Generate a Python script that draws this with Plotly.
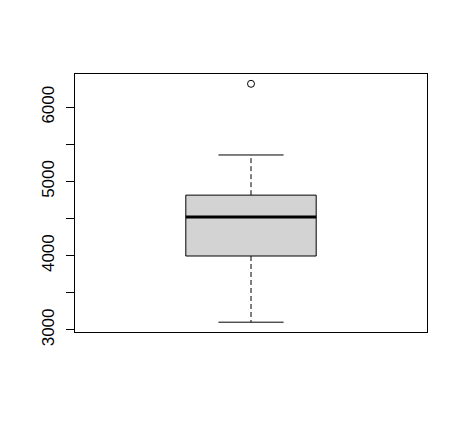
import plotly.graph_objects as go

# Box statistics
lower_whisker = 3104
q1 = 3996
median = 4523
q3 = 4816
upper_whisker = 5357
outliers = [6316]

tick_values = [3000, 3500, 4000, 4500, 5000, 5500, 6000]
tick_labels = ["3000", "", "4000", "", "5000", "", "6000"]

pos = 1.0
half_box = 0.2
half_cap = 0.1

fig = go.Figure()

# box
fig.add_trace(go.Scatter(
    x=[pos - half_box, pos + half_box, pos + half_box, pos - half_box, pos - half_box],
    y=[q1, q1, q3, q3, q1],
    mode="lines", fill="toself", fillcolor="#D3D3D3",
    line=dict(color="black", width=1), hoverinfo="skip"))
# whiskers dashed
fig.add_trace(go.Scatter(x=[pos, pos], y=[q3, upper_whisker], mode="lines",
                         line=dict(color="black", width=1, dash="5px,3px")))
fig.add_trace(go.Scatter(x=[pos, pos], y=[q1, lower_whisker], mode="lines",
                         line=dict(color="black", width=1, dash="5px,3px")))
# caps
fig.add_trace(go.Scatter(x=[pos - half_cap, pos + half_cap], y=[upper_whisker] * 2,
                         mode="lines", line=dict(color="black", width=1)))
fig.add_trace(go.Scatter(x=[pos - half_cap, pos + half_cap], y=[lower_whisker] * 2,
                         mode="lines", line=dict(color="black", width=1)))
# median
fig.add_trace(go.Scatter(x=[pos - half_box, pos + half_box], y=[median] * 2,
                         mode="lines", line=dict(color="black", width=3)))
# outliers
fig.add_trace(go.Scatter(x=[pos] * len(outliers), y=outliers, mode="markers",
                         marker=dict(symbol="circle-open", size=7,
                                     line=dict(color="black", width=1), color="black")))

fig.update_layout(
    width=466, height=428,
    margin=dict(l=67, r=47, t=66, b=104),
    plot_bgcolor="white", paper_bgcolor="white",
    showlegend=False,
    font=dict(family="Liberation Sans, Arial, sans-serif", color="black"),
    xaxis=dict(range=[0.46, 1.54], showticklabels=False, ticks="",
               showgrid=False, zeroline=False, showline=True, mirror=True,
               linecolor="black", linewidth=1),
    yaxis=dict(range=[2972, 6448], tickmode="array", tickvals=tick_values,
               ticktext=tick_labels, ticks="outside", ticklen=8, tickcolor="black",
               tickwidth=1, tickangle=-90, tickfont=dict(size=17, color="black"),
               ticklabelstandoff=5,
               showgrid=False, zeroline=False, showline=True, mirror=True,
               linecolor="black", linewidth=1),
)

fig.write_html("out.html")
